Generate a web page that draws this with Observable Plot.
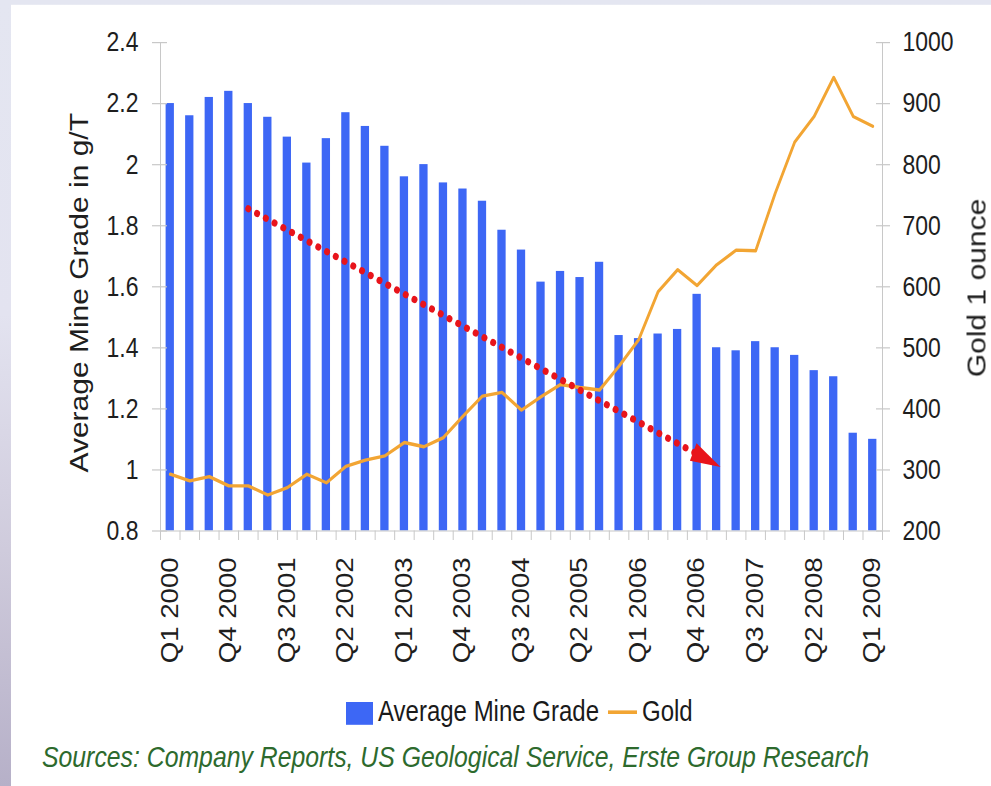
<!DOCTYPE html>
<html>
<head>
<meta charset="utf-8">
<script src="https://cdn.jsdelivr.net/npm/d3@7"></script>
<script src="https://cdn.jsdelivr.net/npm/@observablehq/plot@0.6"></script>
<style>
html, body { margin: 0; padding: 0; width: 991px; height: 786px; overflow: hidden; background: #e2e4ee; }
#bg { position: absolute; left: 0; top: 0; width: 991px; height: 786px;
  background: linear-gradient(180deg, #e4e6f1 0%, #e3e3f0 40%, #cfcbdc 70%, #b6b0c8 100%); }
#page { position: absolute; left: 0; top: 0; width: 991px; height: 655px;
  transform: scaleY(1.2); transform-origin: 0 0; }
#panel { position: absolute; left: 11px; top: 4.2px; right: 0; bottom: 0; background: #fff; }
#chart { position: absolute; left: 0; top: 0; }
#legend { position: absolute; left: 346px; top: 581.4px; display: flex; align-items: center;
  font-family: "Liberation Sans", Arial, sans-serif; font-size: 24px; line-height: 24px; color: #1a1a1a; white-space: nowrap; }
#legend .sw { width: 27px; height: 19px; background: #3d67f5; margin-right: 5px; position: relative; top: 1px; }
#legend .ln { width: 29px; height: 2.6px; background: #f2a533; margin: 0 5px 0 9px; }
#caption { position: absolute; left: 42px; top: 617.5px; font-family: "Liberation Sans", Arial, sans-serif;
  font-style: italic; font-size: 24.8px; line-height: 25px; color: #2d6a2d; white-space: nowrap; }
</style>
</head>
<body>
<div id="bg"></div>
<div id="page">
  <div id="panel"></div>
  <div id="chart"></div>
  <div id="legend"><div class="sw"></div><span id="lg0"></span><div class="ln"></div><span id="lg1"></span></div>
  <div id="caption"></div>
</div>
<script>
// ---- data ----
const quarters = [
  "Q1 2000","Q2 2000","Q3 2000","Q4 2000",
  "Q1 2001","Q2 2001","Q3 2001","Q4 2001",
  "Q1 2002","Q2 2002","Q3 2002","Q4 2002",
  "Q1 2003","Q2 2003","Q3 2003","Q4 2003",
  "Q1 2004","Q2 2004","Q3 2004","Q4 2004",
  "Q1 2005","Q2 2005","Q3 2005","Q4 2005",
  "Q1 2006","Q2 2006","Q3 2006","Q4 2006",
  "Q1 2007","Q2 2007","Q3 2007","Q4 2007",
  "Q1 2008","Q2 2008","Q3 2008","Q4 2008",
  "Q1 2009"
];
const mineGrade = [
  2.20, 2.16, 2.22, 2.24,
  2.20, 2.155, 2.09, 2.005,
  2.085, 2.17, 2.125, 2.06,
  1.96, 2.00, 1.94, 1.92,
  1.88, 1.785, 1.72, 1.615,
  1.65, 1.63, 1.68, 1.44,
  1.43, 1.445, 1.46, 1.575,
  1.40, 1.39, 1.42, 1.40,
  1.375, 1.325, 1.305, 1.12,
  1.10
];
const goldPrice = [
  293, 282, 289, 274,
  274, 259, 271, 293,
  279, 306, 316, 323,
  345, 338, 353, 388,
  421, 427, 398, 420,
  440, 435, 431, 470,
  513, 592, 628, 602,
  636, 660, 659, 753,
  837, 879, 943, 879,
  863
];
const gradeTicks = [0.8, 1, 1.2, 1.4, 1.6, 1.8, 2, 2.2, 2.4];
const goldTicks = [200, 300, 400, 500, 600, 700, 800, 900, 1000];
const labelEvery = 3;
// red trend arrow (start/end in chart units: quarter index, grade)
const trendArrow = [{x1: 4, y1: 1.856, x2: 28.2, y2: 1.01}];
const leftTitle = "Average Mine Grade in g/T";
const rightTitle = "Gold 1 ounce";
const legendItems = ["Average Mine Grade", "Gold"];
const caption = "Sources: Company Reports, US Geological Service, Erste Group Research";

// ---- build ----
document.getElementById("lg0").textContent = legendItems[0];
document.getElementById("lg1").textContent = legendItems[1];
document.getElementById("caption").textContent = caption;

const W = 991, H = 560, mL = 160, mR = 109, mT = 35, mB = 118;
const yDom = [0.8, 2.4], gDom = [200, 1000];
const g2y = g => yDom[0] + (g - gDom[0]) * (yDom[1] - yDom[0]) / (gDom[1] - gDom[0]);
const y2g = y => gDom[0] + (y - yDom[0]) * (gDom[1] - gDom[0]) / (yDom[1] - yDom[0]);
const n = quarters.length;
const data = quarters.map((q, i) => ({i, q, grade: mineGrade[i], gold: goldPrice[i]}));
const labelIdx = d3.range(0, n, labelEvery);
const halfBar = 0.2125;
const bandEdges = d3.range(-0.5, n, 1);

const pxX = (W - mL - mR) / n;
const pxY = (H - mT - mB) / (yDom[1] - yDom[0]);
const a = trendArrow[0];
const angle = 90 + Math.atan2((a.y1 - a.y2) * pxY, (a.x2 - a.x1) * pxX) * 180 / Math.PI;

const axisColor = "#c8c8c8";
const chart = Plot.plot({
  width: W, height: H,
  marginLeft: mL, marginRight: mR, marginTop: mT, marginBottom: mB,
  style: {fontFamily: "'Liberation Sans', Arial, sans-serif", fontSize: "23px", color: "#1e1e1e", background: "transparent", overflow: "visible"},
  x: {type: "linear", domain: [-0.5, n - 0.5]},
  y: {domain: yDom},
  marks: [
    Plot.rectY(data, {x1: d => d.i - halfBar, x2: d => d.i + halfBar, y1: yDom[0], y2: "grade", fill: "#3d67f5"}),
    Plot.ruleX([-0.5, n - 0.5], {stroke: axisColor}),
    Plot.ruleY([yDom[0]], {stroke: axisColor}),
    Plot.axisX({ticks: bandEdges.concat([n - 0.5]), tickSize: 8, fill: "none", stroke: axisColor, label: null}),
    Plot.axisX({ticks: labelIdx, tickSize: 0, tickPadding: 22, tickRotate: -90, tickFormat: i => quarters[i], label: null, fill: "#1e1e1e"}),
    Plot.axisY({ticks: gradeTicks, tickSize: 15, dx: 7, fill: "none", stroke: axisColor, label: null}),
    Plot.axisY({ticks: gradeTicks, tickSize: 0, tickPadding: 22, tickFormat: d => String(+d.toFixed(1)), label: null, fill: "#1e1e1e"}),
    Plot.axisY({anchor: "right", ticks: goldTicks.map(g2y), tickSize: 14, dx: -7, fill: "none", stroke: axisColor, label: null}),
    Plot.axisY({anchor: "right", ticks: goldTicks.map(g2y), tickSize: 0, tickPadding: 20, tickFormat: y => String(Math.round(y2g(y))), label: null, fill: "#1e1e1e"}),
    Plot.line(data, {x: "i", y: d => g2y(d.gold), stroke: "#f2a533", strokeWidth: 2.8, strokeLinejoin: "round"}),
    Plot.arrow(trendArrow, {x1: "x1", y1: "y1", x2: "x2", y2: "y2", stroke: "#e8141b", strokeWidth: 6,
      strokeDasharray: "0.01 9.6", strokeLinecap: "round", headLength: 0, insetEnd: 22}),
    Plot.vector(trendArrow, {x: "x2", y: "y2", length: 30, rotate: angle, shape: "spike", anchor: "end", r: 8,
      fill: "#e8141b", stroke: "none"}),
    Plot.text([leftTitle], {frameAnchor: "left", textAnchor: "middle", dx: -81, dy: 5, rotate: -90, fontSize: 25, fill: "#1e1e1e"}),
    Plot.text([rightTitle], {frameAnchor: "right", textAnchor: "middle", dx: 95, dy: 1, rotate: -90, fontSize: 25, fill: "#1e1e1e"})
  ]
});
document.getElementById("chart").appendChild(chart);
</script>
</body>
</html>
